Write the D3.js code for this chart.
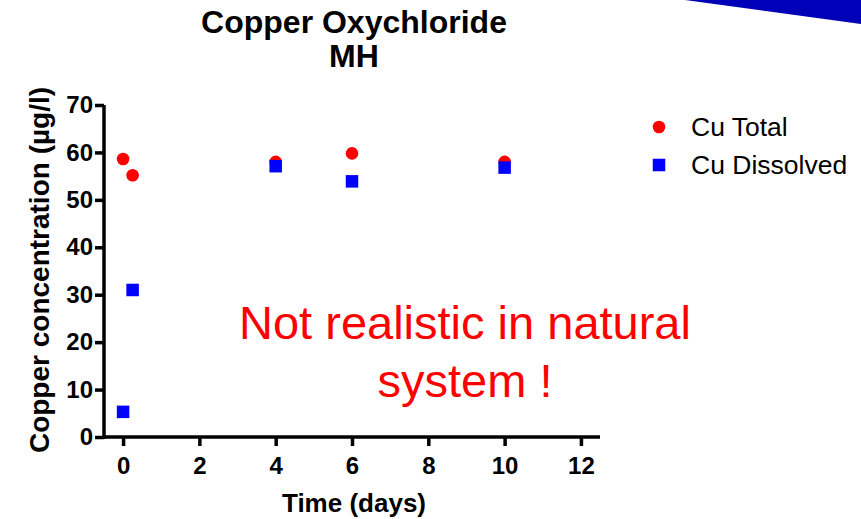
<!DOCTYPE html>
<html>
<head>
<meta charset="utf-8">
<script src="https://cdn.jsdelivr.net/npm/d3@7/dist/d3.min.js"></script>
<style>
  html, body { margin: 0; padding: 0; background: #fff; }
  svg { display: block; font-family: "Liberation Sans", Arial, sans-serif; }
  .tick text { font-family: "Liberation Sans", Arial, sans-serif; font-size: 24px; font-weight: bold; fill: #000; }
</style>
</head>
<body>
<svg id="chart" width="861" height="519"></svg>
<script>
// ---- data ----
const totalDays = [0, 0.25, 4, 6, 10];
const totalValues = [58.6, 55.2, 58.0, 59.8, 58.0];
const dissolvedDays = [0, 0.25, 4, 6, 10];
const dissolvedValues = [5.3, 31.0, 57.1, 53.9, 56.8];
const xTicks = [0, 2, 4, 6, 8, 10, 12];
const yTicks = [0, 10, 20, 30, 40, 50, 60, 70];
const seriesNames = ["Cu Total", "Cu Dissolved"];
const titleLines = ["Copper Oxychloride", "MH"];
const annotationLines = ["Not realistic in natural", "system !"];

const svg = d3.select("#chart");

// decorative slide wedge (top right)
svg.append("polygon")
  .attr("points", "685,0 861,0 861,24")
  .attr("fill", "#0000b8");

const x = d3.scaleLinear().domain([-0.5, 12.5]).range([104, 600]);
const y = d3.scaleLinear().domain([0, 70]).range([437, 105]);

// axes
const xAxis = d3.axisBottom(x).tickValues(xTicks).tickSize(9).tickPadding(11).tickFormat(d3.format("d"));
const yAxis = d3.axisLeft(y).tickValues(yTicks).tickSize(9).tickPadding(2).tickFormat(d3.format("d"));

const gx = svg.append("g").attr("transform", `translate(0,${y(0)})`).call(xAxis);
const gy = svg.append("g").attr("transform", `translate(${x(-0.5)},0)`).call(yAxis);

[gx, gy].forEach(g => {
  g.attr("font-size", null).attr("font-family", null);
  g.select(".domain").attr("stroke", "#000").attr("stroke-width", 3.5);
  g.selectAll(".tick line").attr("stroke", "#000").attr("stroke-width", 3.5);
});
gx.select(".domain").attr("d", `M${x(-0.5)},0H${x(12.5)}`);
gy.select(".domain").attr("d", `M0,${y(70)}V${y(0) + 1.75}`);

// titles
svg.append("text")
  .attr("x", 354).attr("y", 33)
  .attr("text-anchor", "middle")
  .attr("font-size", 32).attr("font-weight", "bold")
  .text(titleLines[0]);
svg.append("text")
  .attr("x", 354).attr("y", 67)
  .attr("text-anchor", "middle")
  .attr("font-size", 32).attr("font-weight", "bold")
  .text(titleLines[1]);

svg.append("text")
  .attr("x", 354).attr("y", 512)
  .attr("text-anchor", "middle")
  .attr("font-size", 26).attr("font-weight", "bold")
  .text("Time (days)");

svg.append("text")
  .attr("transform", "translate(49,270) rotate(-90)")
  .attr("text-anchor", "middle")
  .attr("font-size", 28).attr("font-weight", "bold")
  .text("Copper concentration (µg/l)");

// points
const totalData = totalDays.map((d, i) => ({ x: d, y: totalValues[i] }));
const dissolvedData = dissolvedDays.map((d, i) => ({ x: d, y: dissolvedValues[i] }));

svg.append("g").selectAll("circle").data(totalData).join("circle")
  .attr("cx", d => x(d.x)).attr("cy", d => y(d.y))
  .attr("r", 6.3).attr("fill", "#ff0000");

const sq = 12.5;
svg.append("g").selectAll("rect").data(dissolvedData).join("rect")
  .attr("x", d => x(d.x) - sq / 2).attr("y", d => y(d.y) - sq / 2)
  .attr("width", sq).attr("height", sq).attr("fill", "#0000ff");

// legend
const legend = svg.append("g");
legend.append("circle").attr("cx", 659).attr("cy", 127).attr("r", 6.3).attr("fill", "#ff0000");
legend.append("rect").attr("x", 659 - sq / 2).attr("y", 165 - sq / 2).attr("width", sq).attr("height", sq).attr("fill", "#0000ff");
legend.append("text").attr("x", 691).attr("y", 136).attr("font-size", 26.5).attr("fill", "#000").text(seriesNames[0]);
legend.append("text").attr("x", 691).attr("y", 174).attr("font-size", 26.5).attr("fill", "#000").text(seriesNames[1]);

// annotation
svg.append("text")
  .attr("x", 465).attr("y", 339)
  .attr("text-anchor", "middle")
  .attr("font-size", 47).attr("fill", "#ff0000")
  .text(annotationLines[0]);
svg.append("text")
  .attr("x", 465).attr("y", 397)
  .attr("text-anchor", "middle")
  .attr("font-size", 47).attr("fill", "#ff0000")
  .text(annotationLines[1]);
</script>
</body>
</html>
